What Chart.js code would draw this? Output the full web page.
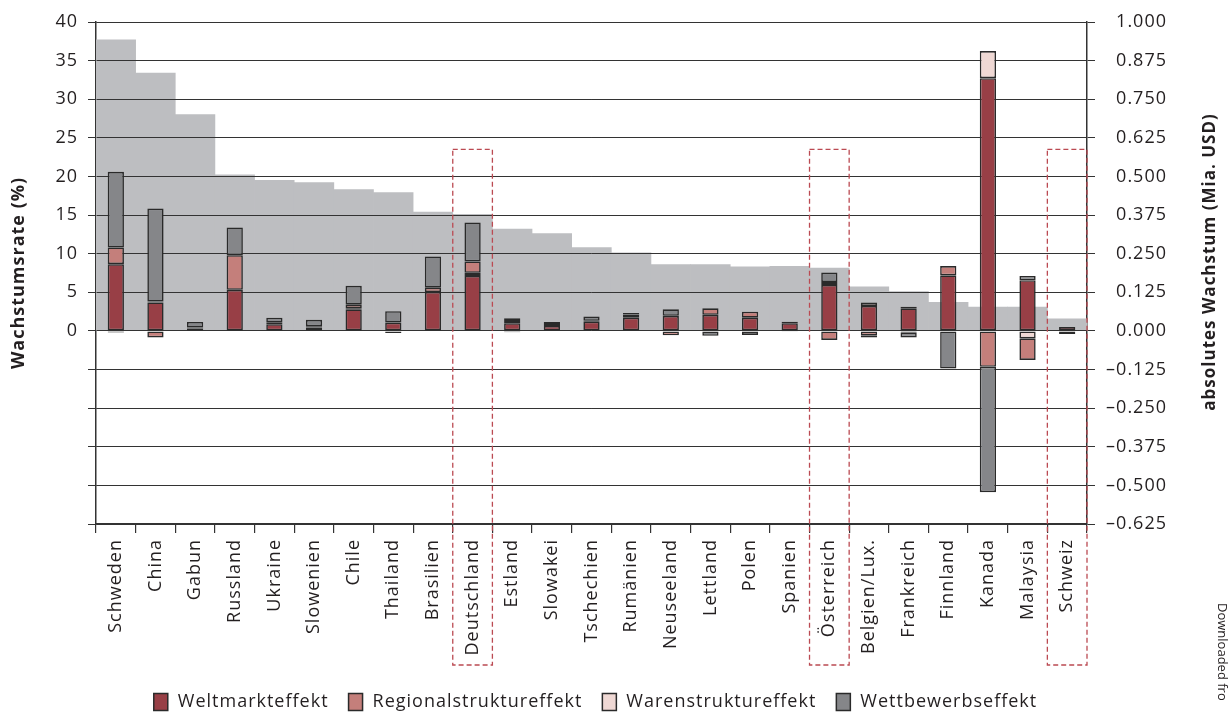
<!DOCTYPE html>
<html lang="de">
<head>
<meta charset="utf-8">
<title>Wachstumsrate und absolutes Wachstum nach Effekten</title>
<script src="https://cdn.jsdelivr.net/npm/chart.js@4.4.1/dist/chart.umd.min.js"></script>
<style>
  html, body { margin: 0; padding: 0; background: #fff; }
  #wrap { width: 1232px; height: 715px; }
</style>
</head>
<body>
<div id="wrap"><canvas id="effectChart" width="1232" height="715"></canvas></div>
<script>
const countries = [
  "Schweden", "China", "Gabun", "Russland", "Ukraine", "Slowenien", "Chile",
  "Thailand", "Brasilien", "Deutschland", "Estland", "Slowakei", "Tschechien",
  "Rumänien", "Neuseeland", "Lettland", "Polen", "Spanien", "Österreich",
  "Belgien/Lux.", "Frankreich", "Finnland", "Kanada", "Malaysia", "Schweiz"
];

// Wachstumsrate in % (linke Achse)
const growthRate = [
  37.7, 33.4, 28.0, 20.2, 19.5, 19.2, 18.3, 17.9, 15.4, 15.1, 13.2, 12.6, 10.8,
  10.1, 8.6, 8.6, 8.3, 8.35, 8.15, 5.7, 5.1, 3.7, 3.1, 3.1, 1.55
];

// absolutes Wachstum in Mia. USD (rechte Achse), je Effekt
const weltmarkt = [
  0.216, 0.092, 0.008, 0.133, 0.022, 0.011, 0.070, 0.027, 0.126, 0.178, 0.025,
  0.016, 0.030, 0.043, 0.049, 0.052, 0.043, 0.025, 0.149, 0.081, 0.073, 0.180,
  0.818, 0.164, 0.013
];
const warenstruktur = [
  -0.005, 0.003, 0.003, 0, 0, 0, 0.003, 0, 0, 0.010, -0.004, 0.003, 0.003, 0,
  0, 0, 0, 0, 0.009, 0.011, 0.005, 0, 0.088, -0.024, 0
];
const regionalstruktur = [
  0.054, -0.021, 0, 0.112, 0.006, 0.004, 0.012, -0.007, 0.014, 0.037, 0.010, 0,
  0, 0.010, -0.014, 0.021, 0.019, -0.003, -0.029, -0.014, -0.006, 0.030,
  -0.116, -0.070, 0
];
const wettbewerb = [
  0.245, 0.301, 0.018, 0.090, 0.015, 0.021, 0.061, 0.037, 0.101, 0.126, 0.006,
  0.010, 0.014, 0.005, 0.021, -0.016, -0.013, 0.005, 0.031, -0.007, -0.015,
  -0.122, -0.406, 0.014, -0.010
];

const highlighted = ["Deutschland", "Österreich", "Schweiz"];
const legendOrder = ["Weltmarkteffekt", "Regionalstruktureffekt", "Warenstruktureffekt", "Wettbewerbseffekt"];

const FONT = "'Open Sans', 'Noto Sans', sans-serif";
const INK = "#231f20";
const LINE = "#333333";

// Myriad-style tracking for all canvas text
const tracking = {
  id: "tracking",
  beforeLayout(chart) { chart.ctx.letterSpacing = "1px"; },
  beforeDraw(chart) { chart.ctx.letterSpacing = "1px"; }
};

// grid lines sit on top of the grey rate bars, below the effect bars
const gridOverRate = {
  id: "gridOverRate",
  afterDatasetDraw(chart, args) {
    if (args.index !== 0) return;
    chart.scales.y.drawGrid(chart.chartArea);
  }
};

// dashed frames around selected countries and extra texts
const extras = {
  id: "extras",
  afterDraw(chart) {
    const ctx = chart.ctx;
    const x = chart.scales.x;
    const y = chart.scales.y;
    const area = chart.chartArea;
    const half = (x.getPixelForValue(1) - x.getPixelForValue(0)) / 2;
    const top = y.getPixelForValue(23.5);
    const bottom = area.bottom + 141;

    ctx.save();
    ctx.letterSpacing = "1px";
    ctx.strokeStyle = "#bb4a52";
    ctx.lineWidth = 1.3;
    ctx.setLineDash([5, 3]);
    highlighted.forEach(name => {
      const cx = x.getPixelForValue(countries.indexOf(name));
      ctx.strokeRect(cx - half, top, half * 2, bottom - top);
    });
    ctx.setLineDash([]);

    // right axis title, reading bottom to top
    ctx.fillStyle = INK;
    ctx.font = `bold 17px ${FONT}`;
    ctx.textAlign = "center";
    ctx.textBaseline = "middle";
    ctx.save();
    ctx.translate(area.right + 123, 262);
    ctx.rotate(-Math.PI / 2);
    ctx.fillText("absolutes Wachstum (Mia. USD)", 0, 0);
    ctx.restore();

    ctx.save();
    ctx.font = `13px ${FONT}`;
    ctx.letterSpacing = "0px";
    ctx.textAlign = "left";
    ctx.translate(1222, 603);
    ctx.rotate(Math.PI / 2);
    ctx.fillText("Downloaded fro", 0, 0);
    ctx.restore();

    // legend
    ctx.font = `18px ${FONT}`;
    ctx.textAlign = "left";
    const items = legendOrder.map(label => chart.data.datasets.find(d => d.label === label));
    const boxW = 14, boxH = 17, textGap = 10, itemGap = 20;
    const widths = items.map(d => ctx.measureText(d.label).width);
    const total = widths.reduce((sum, w) => sum + boxW + textGap + w, 0) + itemGap * (items.length - 1);
    let lx = (area.left + area.right) / 2 + 4 - total / 2;
    const ly = 702;
    items.forEach((d, i) => {
      ctx.fillStyle = d.backgroundColor;
      ctx.fillRect(lx, ly - boxH / 2, boxW, boxH);
      ctx.strokeStyle = d.borderColor;
      ctx.lineWidth = 1.5;
      ctx.strokeRect(lx, ly - boxH / 2, boxW, boxH);
      ctx.fillStyle = INK;
      ctx.fillText(d.label, lx + boxW + textGap, ly);
      lx += boxW + textGap + widths[i] + itemGap;
    });
    ctx.restore();
  }
};

function effectSet(label, data, color) {
  return {
    type: "bar",
    label: label,
    data: data,
    yAxisID: "y2",
    stack: "effekte",
    backgroundColor: color,
    borderColor: "#2a2a2a",
    borderWidth: 1.6,
    borderSkipped: false,
    barPercentage: 0.41,
    categoryPercentage: 1,
    order: 0
  };
}

const ctx = document.getElementById("effectChart").getContext("2d");

new Chart(ctx, {
  type: "bar",
  data: {
    labels: countries,
    datasets: [
      {
        label: "Wachstumsrate",
        data: growthRate,
        yAxisID: "y",
        stack: "rate",
        backgroundColor: "#bdbec1",
        borderWidth: 0,
        barPercentage: 1,
        categoryPercentage: 1,
        grouped: false,
        order: 10
      },
      // stacking order: Weltmarkt, Waren, Regional, Wettbewerb
      effectSet("Weltmarkteffekt", weltmarkt, "#983f46"),
      effectSet("Warenstruktureffekt", warenstruktur, "#efd8d4"),
      effectSet("Regionalstruktureffekt", regionalstruktur, "#c47f7b"),
      effectSet("Wettbewerbseffekt", wettbewerb, "#858689")
    ]
  },
  options: {
    responsive: false,
    animation: false,
    layout: { padding: { top: 22, left: 0, right: 65, bottom: 0 } },
    plugins: {
      legend: { display: false },
      tooltip: { enabled: false }
    },
    scales: {
      x: {
        offset: true,
        grid: { offset: true, drawOnChartArea: false, tickLength: 9, color: LINE, lineWidth: 1.2 },
        border: { color: LINE, width: 1.5 },
        ticks: {
          autoSkip: false,
          minRotation: 90,
          maxRotation: 90,
          padding: 6,
          color: INK,
          font: { family: FONT, size: 18 }
        },
        afterFit(scale) { scale.height = 191; }
      },
      y: {
        position: "left",
        min: -25,
        max: 40,
        ticks: {
          stepSize: 5,
          padding: 10,
          color: INK,
          font: { family: FONT, size: 18 },
          callback: v => (v >= 0 ? String(v) : "")
        },
        grid: { color: LINE, lineWidth: 1, tickLength: 8 },
        border: { color: LINE, width: 1.5 },
        title: {
          display: true,
          text: "Wachstumsrate (%)",
          color: INK,
          font: { family: FONT, size: 18, weight: "bold" },
          padding: { top: 8, bottom: 0 }
        },
        afterFit(scale) { scale.width = 96; }
      },
      y2: {
        position: "right",
        min: -0.625,
        max: 1,
        ticks: {
          stepSize: 0.125,
          padding: 8,
          crossAlign: "far",
          color: INK,
          font: { family: FONT, size: 18 },
          callback: v => v.toFixed(3).replace("-", "\u2013")
        },
        grid: { drawOnChartArea: false, color: LINE, lineWidth: 1, tickLength: 8 },
        border: { color: LINE, width: 1.5 },
        afterFit(scale) { scale.width = 80; }
      }
    }
  },
  plugins: [tracking, gridOverRate, extras]
});
</script>
</body>
</html>
